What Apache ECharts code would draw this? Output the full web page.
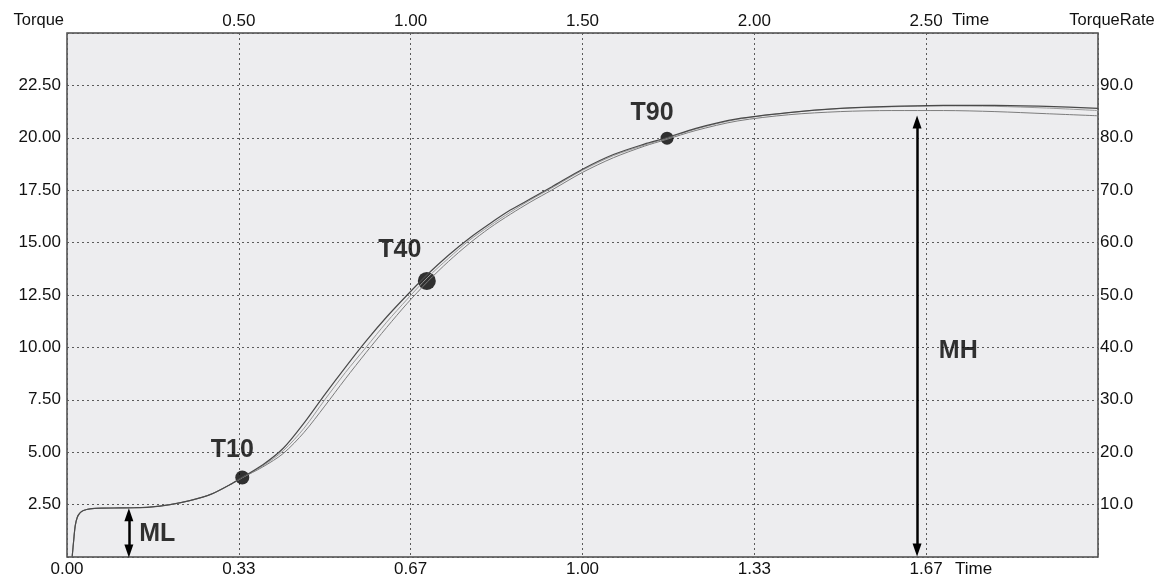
<!DOCTYPE html>
<html>
<head>
<meta charset="utf-8">
<script src="https://cdn.jsdelivr.net/npm/echarts@6/dist/echarts.min.js"></script>
<style>
html,body{margin:0;padding:0;background:#fff;}
#chart{width:1172px;height:580px;}
</style>
</head>
<body>
<div id="chart"></div>
<script>
// ---- data ----
var time = [0.010,0.013,0.016,0.020,0.025,0.032,0.045,0.07,0.10,0.13,0.16,0.20,0.24,0.28,0.32,0.34,0.38,0.42,0.46,0.50,0.54,0.58,0.62,0.66,0.70,0.74,0.78,0.82,0.86,0.90,0.94,1.00,1.06,1.12,1.16,1.22,1.30,1.40,1.50,1.60,1.70,1.80,1.90,2.00];
var torqueA = [0,0.8,1.5,1.9,2.1,2.22,2.3,2.33,2.34,2.35,2.38,2.5,2.7,3.0,3.5,3.8,4.4,5.2,6.4,7.75,9.05,10.3,11.45,12.5,13.5,14.4,15.2,15.9,16.55,17.1,17.65,18.5,19.2,19.7,19.98,20.45,20.9,21.2,21.4,21.5,21.55,21.55,21.5,21.4];
var torqueB = [0,0.8,1.5,1.9,2.1,2.22,2.3,2.33,2.34,2.35,2.38,2.5,2.7,3.0,3.5,3.78,4.3,4.95,5.95,7.2,8.5,9.75,10.95,12.1,13.15,14.1,14.95,15.7,16.35,16.95,17.5,18.35,19.05,19.6,19.9,20.35,20.8,21.1,21.25,21.3,21.3,21.25,21.15,21.05];
var torqueC = [0,0.8,1.5,1.9,2.1,2.22,2.3,2.33,2.34,2.35,2.38,2.5,2.7,3.0,3.5,3.79,4.35,5.08,6.15,7.5,8.8,10.0,11.2,12.3,13.35,14.25,15.1,15.8,16.45,17.05,17.6,18.45,19.15,19.65,19.95,20.42,20.88,21.2,21.4,21.48,21.52,21.5,21.42,21.3];

var markerNames = ['T10','T40','T90'];
var markerTimes = [0.34, 0.698, 1.164];
var markerTorques = [3.79, 13.17, 19.98];

var rangeNames = ['MH','ML'];
var rangeTimes = [1.649, 0.120];
var rangeLow = [0.33, 0.29];
var rangeHigh = [20.75, 2.02];
var rangeLabelTimes = [1.729, 0.175];
var rangeLabelTorques = [9.8, 1.07];

var bottomTicks = {min:0, max:2, interval:1/3};
var topTicks = {min:0, max:3, interval:0.5};
var leftTicks = {min:0, max:25, interval:2.5};
var rightTicks = {min:0, max:100, interval:10};

// ---- styles ----
var FONT = "'Liberation Sans', Arial, sans-serif";
var markerStyle = {
  T10:{size:14, offset:[-10,-27]},
  T40:{size:18, offset:[-27,-31]},
  T90:{size:13, offset:[-15,-25]}
};
function zip(xs, ys){ return xs.map(function(x,i){ return [x, ys[i]]; }); }
function near(v, t){ return Math.abs(v - t) < 1e-6; }

var markerData = markerNames.map(function(n,i){
  return {
    name:n, value:[markerTimes[i], markerTorques[i]],
    symbolSize: markerStyle[n].size,
    label:{offset: markerStyle[n].offset}
  };
});
var rangeLabelData = rangeNames.map(function(n,i){
  return {name:n, value:[rangeLabelTimes[i], rangeLabelTorques[i]]};
});
var rangeLines = rangeNames.map(function(n,i){
  return [{coord:[rangeTimes[i], rangeLow[i]]},{coord:[rangeTimes[i], rangeHigh[i]]}];
});

var labelStyle = {color:'#111', fontSize:17, fontFamily:FONT};
var chart = echarts.init(document.getElementById('chart'), null, {renderer:'canvas'});
chart.setOption({
  animation:false,
  backgroundColor:'#ffffff',
  grid:{left:67, right:74, top:33, bottom:23, show:true, backgroundColor:'#ededef',
        borderColor:'#4a4a4a', borderWidth:1.5, containLabel:false, outerBoundsMode:'none'},
  xAxis:[{
    type:'value', position:'bottom', min:bottomTicks.min, max:bottomTicks.max, interval:bottomTicks.interval,
    name:'Time', nameLocation:'end', nameGap:-143, nameMoveOverlap:false,
    nameTextStyle:{color:'#111', fontSize:17, fontFamily:FONT, verticalAlign:'top', lineHeight:24},
    axisLine:{show:false, onZero:false}, axisTick:{show:false},
    axisLabel:Object.assign({margin:4, formatter:function(v){ return v > 1.9 ? '' : v.toFixed(2); }}, labelStyle),
    splitLine:{show:true, lineStyle:{color:'#5a5a5a', type:[2,3], width:1}}
  },{
    type:'value', position:'top', min:topTicks.min, max:topTicks.max, interval:topTicks.interval,
    name:'Time', nameLocation:'end', nameGap:-146, nameMoveOverlap:false,
    nameTextStyle:{color:'#111', fontSize:17, fontFamily:FONT, verticalAlign:'bottom', lineHeight:26},
    axisLine:{show:false, onZero:false}, axisTick:{show:false},
    axisLabel:Object.assign({margin:3, formatter:function(v){ return (near(v,0)||v>2.9) ? '' : v.toFixed(2); }}, labelStyle),
    splitLine:{show:false}
  }],
  yAxis:[{
    type:'value', position:'left', min:leftTicks.min, max:leftTicks.max, interval:leftTicks.interval,
    name:'Torque', nameLocation:'end', nameGap:4, nameMoveOverlap:false,
    nameTextStyle:{color:'#111', fontSize:16.5, fontFamily:FONT, align:'right', padding:[0,3,0,0]},
    axisLine:{show:false, onZero:false}, axisTick:{show:false},
    axisLabel:Object.assign({margin:6, formatter:function(v){ return (near(v,0)||v>24.9) ? '' : v.toFixed(2); }}, labelStyle),
    splitLine:{show:true, lineStyle:{color:'#5a5a5a', type:[2,3], width:1}}
  },{
    type:'value', position:'right', min:rightTicks.min, max:rightTicks.max, interval:rightTicks.interval,
    name:'TorqueRate', nameLocation:'end', nameGap:4, nameMoveOverlap:false,
    nameTextStyle:{color:'#111', fontSize:16.5, fontFamily:FONT, align:'center', padding:[0,0,0,28]},
    axisLine:{show:false, onZero:false}, axisTick:{show:false},
    axisLabel:Object.assign({margin:2, formatter:function(v){ return (near(v,0)||v>99) ? '' : v.toFixed(1); }}, labelStyle),
    splitLine:{show:false}
  }],
  series:[{
    type:'line', name:'B', data:zip(time, torqueB), showSymbol:false, symbol:'none',
    smooth:0.3, lineStyle:{color:'#7c7c7c', width:1}, silent:true
  },{
    type:'line', name:'C', data:zip(time, torqueC), showSymbol:false, symbol:'none',
    smooth:0.3, lineStyle:{color:'#9a9a9a', width:1}, silent:true
  },{
    type:'line', name:'A', data:zip(time, torqueA), showSymbol:false, symbol:'none',
    smooth:0.3, lineStyle:{color:'#4a4a4a', width:1.2}, silent:true
  },{
    type:'scatter', name:'markers', data:markerData, itemStyle:{color:'#000'}, silent:true,
    label:{show:true, position:'inside', formatter:'{b}', color:'#000', fontSize:25, fontWeight:'bold', fontFamily:FONT}
  },{
    type:'scatter', name:'ranges', data:rangeLabelData, symbolSize:0, silent:true,
    label:{show:true, position:'inside', formatter:'{b}', color:'#000', fontSize:25, fontWeight:'bold', fontFamily:FONT},
    markLine:{
      silent:true, symbol:['triangle','triangle'], symbolSize:[9,13], precision:3,
      lineStyle:{color:'#000', width:2.5, type:'solid'}, label:{show:false},
      data:rangeLines
    }
  }]
});
</script>
</body>
</html>
